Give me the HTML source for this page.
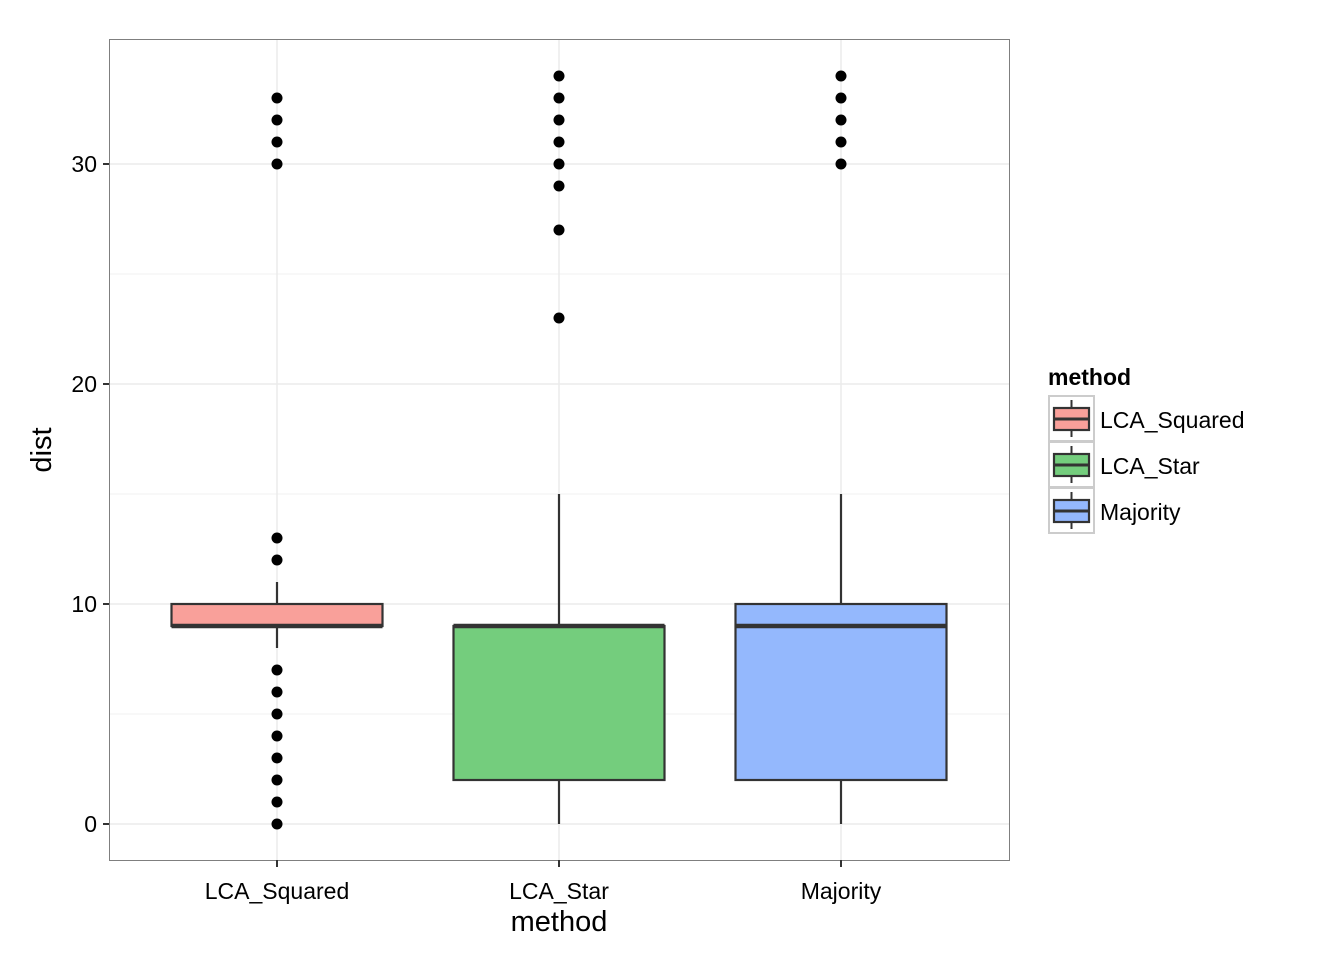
<!DOCTYPE html>
<html><head><meta charset="utf-8"><style>
body{margin:0;background:#fff;}
svg{display:block;font-family:"Liberation Sans",Arial,sans-serif;}
</style></head><body>
<svg id="chart" width="1344" height="960" viewBox="0 0 1344 960" xmlns="http://www.w3.org/2000/svg">
<rect x="0" y="0" width="1344" height="960" fill="#fff"/>
<g id="grid"></g>
<g id="marks"></g>
<rect x="109.5" y="39.5" width="900" height="821" fill="none" stroke="#7f7f7f" stroke-width="1"/>
<g id="axes"></g>
<text x="559" y="931" font-size="29" text-anchor="middle">method</text>
<text transform="translate(51,450) rotate(-90)" font-size="29" text-anchor="middle">dist</text>
<g id="legend">
<text x="1048" y="385" font-size="23" font-weight="bold">method</text>
</g>
</svg>
<script>
const categories=["LCA_Squared","LCA_Star","Majority"];
const lowerWhisker=[8,0,0];
const q1=[9,2,2];
const median=[9,9,9];
const q3=[10,9,10];
const upperWhisker=[11,15,15];
const outliers=[[13,12,7,6,5,4,3,2,1,0,30,31,32,33],[23,27,29,30,31,32,33,34],[30,31,32,33,34]];
const fills=["#F9A09A","#74CD7D","#94B8FD"];
const yTicks=[0,10,20,30];
const yMinor=[5,15,25];

const NS="http://www.w3.org/2000/svg";
const y=v=>824-22*v;
const x=i=>277+282*i;
const bw=211;
function mk(parent,tag,attrs){const e=document.createElementNS(NS,tag);for(const k in attrs)e.setAttribute(k,attrs[k]);document.getElementById(parent).appendChild(e);return e;}

yMinor.forEach(v=>{const l=mk('grid','line',{x1:110,x2:1009,y1:y(v),y2:y(v),stroke:'#f5f5f5','stroke-width':1.5});

});
yTicks.forEach(v=>{const l=mk('grid','line',{x1:110,x2:1009,y1:y(v),y2:y(v),stroke:'#ebebeb','stroke-width':1.5});


const t=mk('axes','line',{x1:103,x2:109,y1:y(v),y2:y(v),stroke:'#333','stroke-width':2});


const tx=mk('axes','text',{x:97,y:y(v)+8,'font-size':23,'text-anchor':'end',fill:'#000'});tx.textContent=v;

});
categories.forEach((c,i)=>{const l=mk('grid','line',{x1:x(i),x2:x(i),y1:40,y2:860,stroke:'#ebebeb','stroke-width':1.5});


const t=mk('axes','line',{x1:x(i),x2:x(i),y1:860,y2:867,stroke:'#333','stroke-width':2});


const tx=mk('axes','text',{x:x(i),y:899,'font-size':23,'text-anchor':'middle',fill:'#000'});tx.textContent=c;


const g=mk('marks','g',{});


const w1=document.createElementNS(NS,'line');['x1','x2'].forEach(a=>w1.setAttribute(a,x(i)));w1.setAttribute('y1',y(upperWhisker[i]));w1.setAttribute('y2',y(q3[i]));w1.setAttribute('stroke','#333');w1.setAttribute('stroke-width',2.2);g.appendChild(w1);
const w2=document.createElementNS(NS,'line');['x1','x2'].forEach(a=>w2.setAttribute(a,x(i)));w2.setAttribute('y1',y(q1[i]));w2.setAttribute('y2',y(lowerWhisker[i]));w2.setAttribute('stroke','#333');w2.setAttribute('stroke-width',2.2);g.appendChild(w2);
const r=document.createElementNS(NS,'rect');r.setAttribute('x',x(i)-bw/2);r.setAttribute('y',y(q3[i]));r.setAttribute('width',bw);r.setAttribute('height',y(q1[i])-y(q3[i]));r.setAttribute('fill',fills[i]);r.setAttribute('stroke','#333');r.setAttribute('stroke-width',2.2);g.appendChild(r);
const m=document.createElementNS(NS,'line');m.setAttribute('x1',x(i)-bw/2);m.setAttribute('x2',x(i)+bw/2);m.setAttribute('y1',y(median[i]));m.setAttribute('y2',y(median[i]));m.setAttribute('stroke','#333');m.setAttribute('stroke-width',4.5);g.appendChild(m);
outliers[i].forEach(v=>{const p=mk('marks','circle',{cx:x(i),cy:y(v),r:5.5,fill:'#000'});

});
const ky=396+46*i;
const kb=mk('legend','rect',{x:1049,y:ky,width:45,height:45,fill:'#fff',stroke:'#ccc','stroke-width':2});


const kw=mk('legend','line',{x1:1071.5,x2:1071.5,y1:ky+4,y2:ky+41,stroke:'#333','stroke-width':2});


const kr=mk('legend','rect',{x:1054,y:ky+12,width:35,height:22,fill:fills[i],stroke:'#333','stroke-width':2.2});


const km=mk('legend','line',{x1:1054,x2:1089,y1:ky+23,y2:ky+23,stroke:'#333','stroke-width':3});


const kt=mk('legend','text',{x:1100,y:ky+32,'font-size':23,fill:'#000'});kt.textContent=c;


});
</script>
</body></html>
